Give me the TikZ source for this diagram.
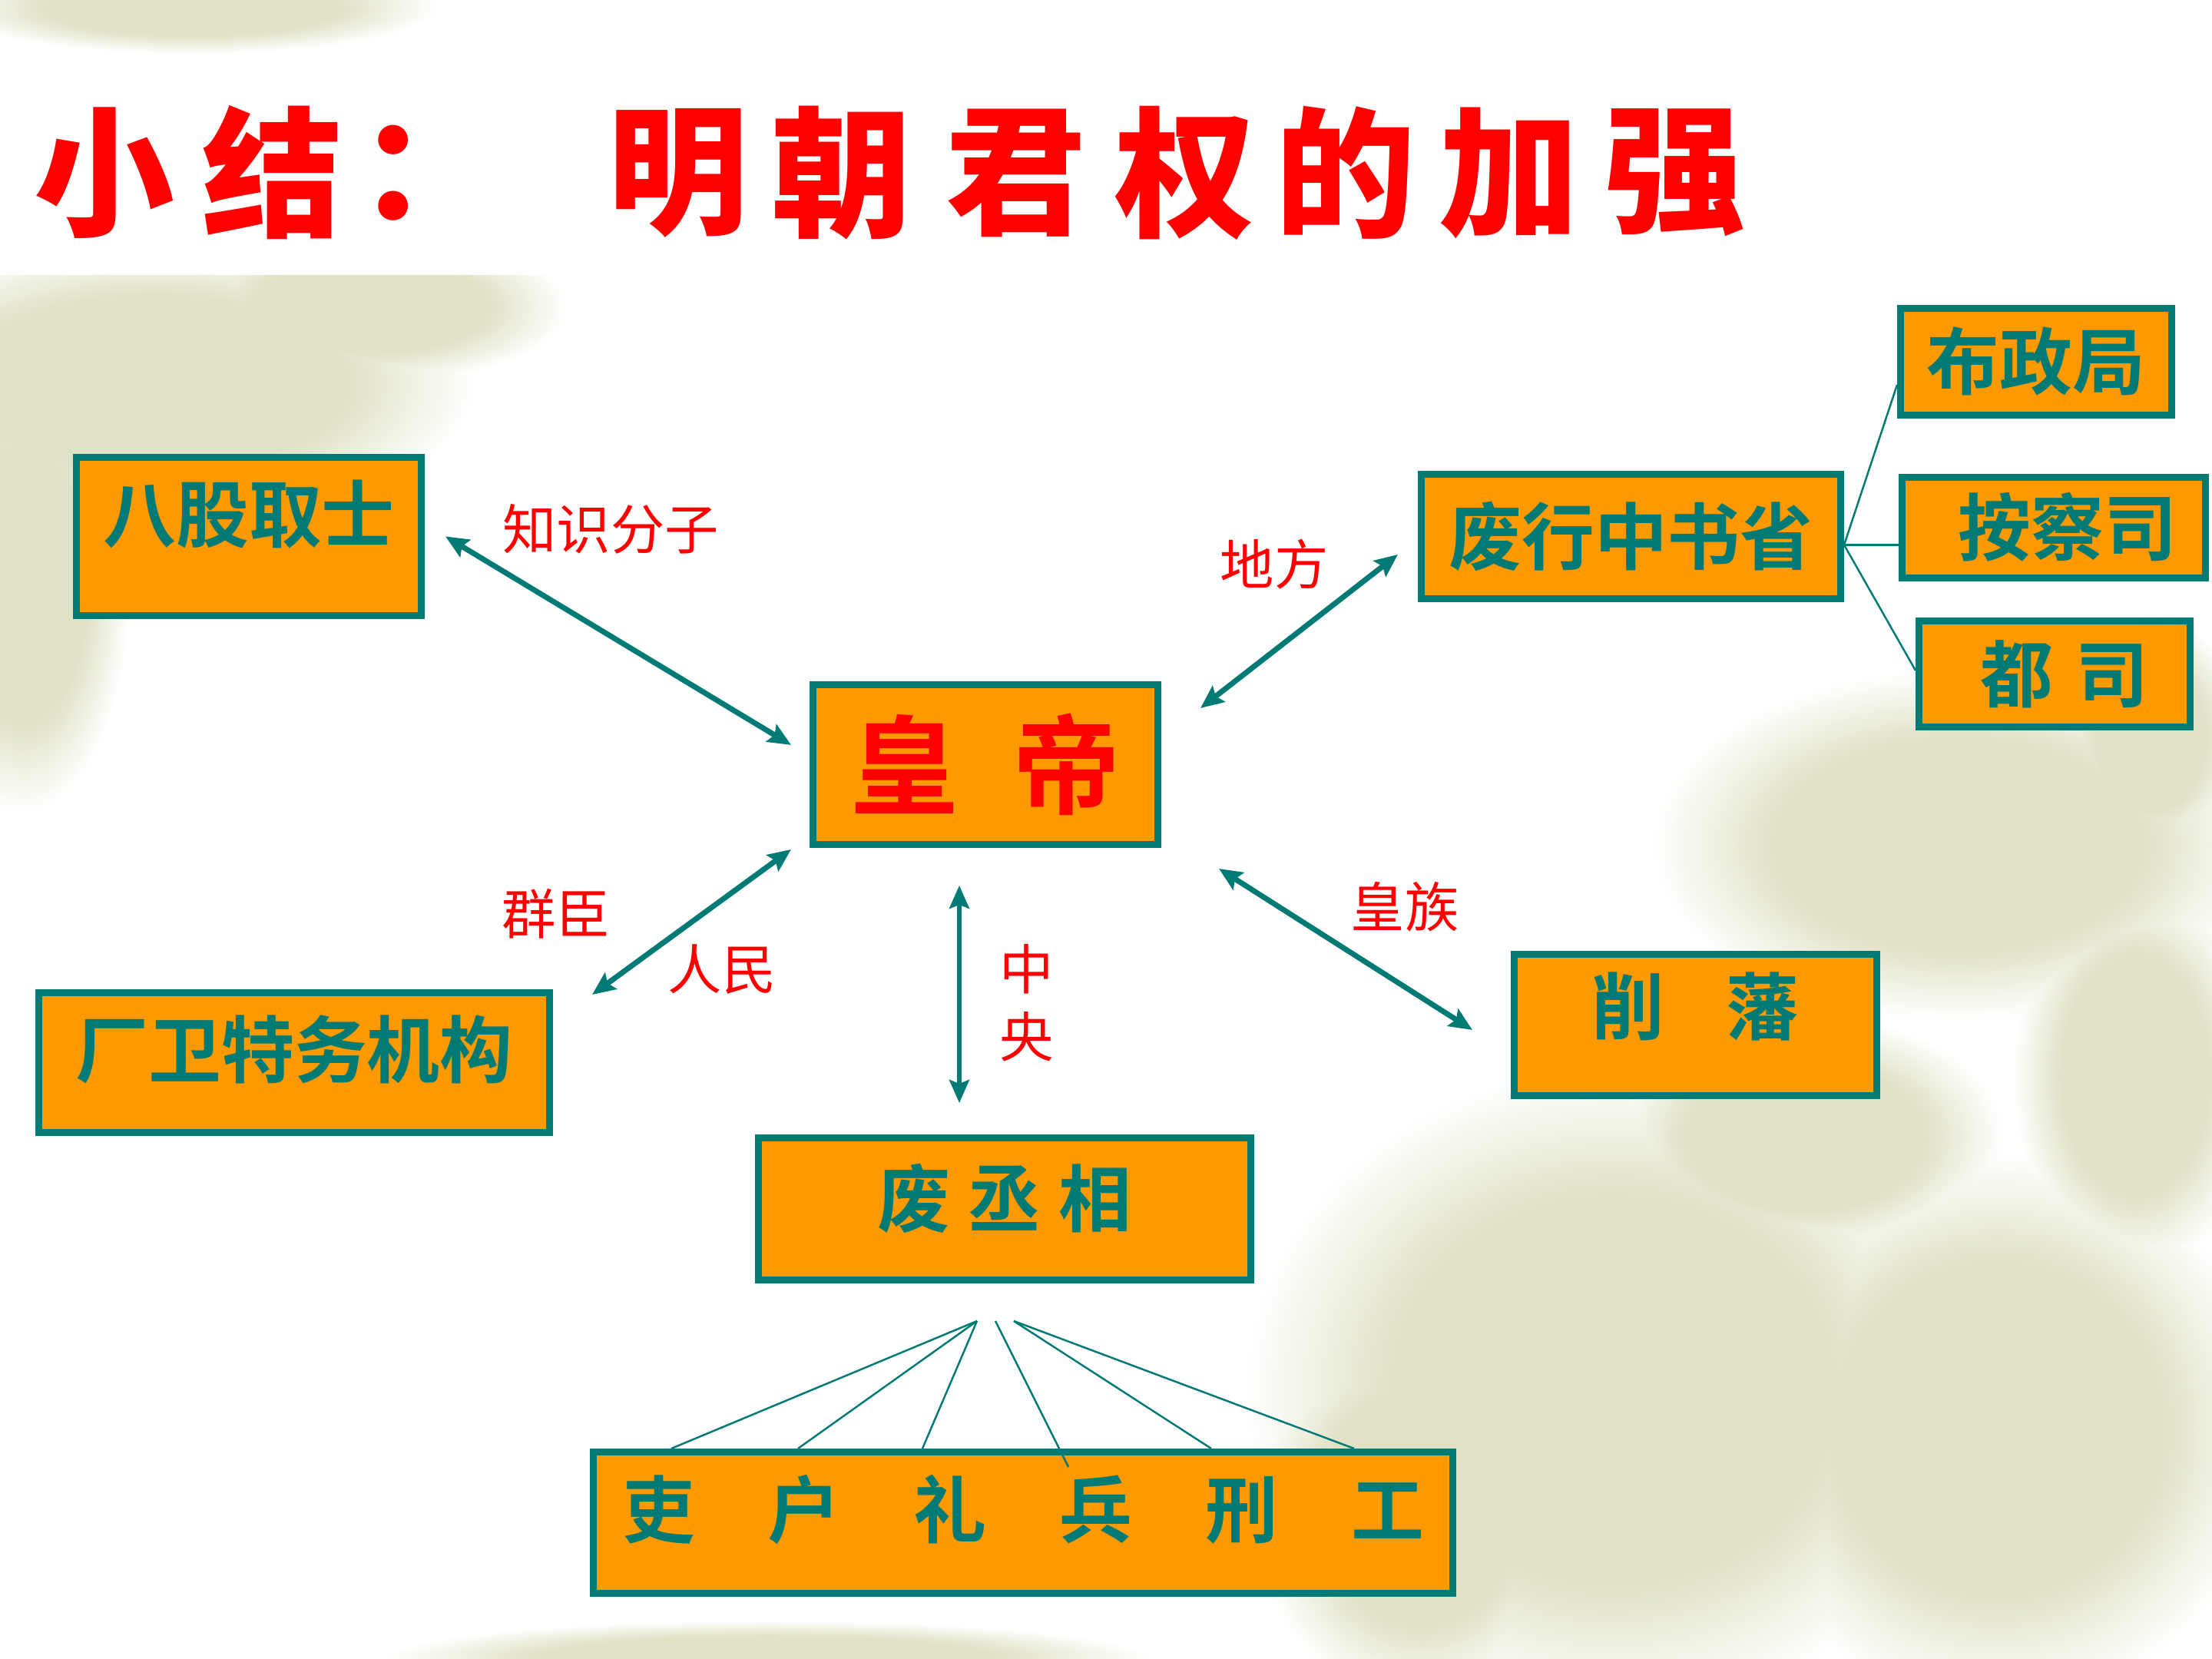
\documentclass[tikz,border=0pt]{standalone}
\usepackage{fontspec}
\newfontfamily\cjk{Noto Sans CJK SC}
\newfontfamily\cjkbf{Noto Sans CJK SC Bold}
\newfontfamily\cjkblk{Noto Sans CJK SC Black}
\usetikzlibrary{arrows.meta,calc,positioning}
\definecolor{boxfill}{RGB}{255,153,0}
\definecolor{boxline}{RGB}{0,122,116}
\definecolor{hired}{RGB}{255,0,0}
\definecolor{leaf}{RGB}{224,225,197}
\pgfdeclareradialshading{leafblob}{\pgfpoint{0bp}{0bp}}{color(0bp)=(leaf); color(15bp)=(leaf); color(25bp)=(white); color(50bp)=(white)}

\begin{document}
\begin{tikzpicture}[>=Stealth,
  box/.style={draw=boxline,fill=boxfill,line width=0.09cm,inner sep=0pt,text=boxline,
    font=\cjkbf\fontsize{27}{32}\selectfont,text height=0.8cm,text depth=0.08cm},
  titlechar/.style={text=hired,inner sep=0pt,font=\cjkblk\fontsize{52}{60}\selectfont},
  redlab/.style={text=hired,inner sep=0pt,font=\cjk\fontsize{20}{25}\selectfont},
  biarrow/.style={draw=boxline,line width=2pt,
    {Stealth[length=0.3cm,width=0.26cm,inset=0.05cm]}-{Stealth[length=0.3cm,width=0.26cm,inset=0.05cm]}},
  thinline/.style={draw=boxline,line width=0.7pt}]
\useasboundingbox (0,0) rectangle (28.8,21.6);
\fill[white] (0,0) rectangle (28.8,21.6);

% background leaves
\foreach \bx/\by/\rx/\ry in {2.5/21.5/3.2/0.6, 2.0/16.6/4.2/1.9, 0.3/14.0/1.4/3.0, 4.8/17.6/2.6/1.0,
  25.5/10.6/4.0/2.3, 21.0/3.5/4.8/4.2, 26.0/3.0/3.6/3.6, 27.8/7.6/1.6/2.6,
  18.5/2.0/2.2/2.6, 23.5/6.8/2.6/1.6, 28.0/12.0/1.2/1.6, 10.0/0.0/5.0/0.5}
  \shade[shading=leafblob,blend mode=darken] (\bx,\by) ellipse (\rx cm and \ry cm);
\fill[white] (0,18.02) rectangle (28.8,20.9);

% title
\foreach \c/\x [count=\i] in {小/1.36,结/3.55,：/5.58,明/8.83,朝/10.96,君/13.23,权/15.43,的/17.52,加/19.65,强/21.81}
  \node[titlechar] (t\i) at (\x,19.35) {\c};

% boxes
\node[box,minimum width=4.49cm,minimum height=2.06cm,text depth=0.66cm] (bagu) at (3.24,14.615) {八股取士};
\node[box,minimum width=4.49cm,minimum height=2.08cm,text=hired,text height=,text depth=,
  font=\cjkbf\fontsize{40}{48}\selectfont] (huangdi) at (12.83,11.645) {皇\hspace{0.5em}帝};
\node[box,minimum width=5.46cm,minimum height=1.62cm] (feixing) at (21.235,14.615) {废行中书省};
\node[box,minimum width=3.53cm,minimum height=1.39cm] (buzheng) at (26.51,16.89) {布政局};
\node[box,minimum width=3.95cm,minimum height=1.31cm] (ancha) at (26.74,14.73) {\hspace{0.36cm}按察司};
\node[box,minimum width=3.53cm,minimum height=1.38cm] (dusi) at (26.75,12.825) {\hspace{0.26cm}都\hspace{0.3em}司};
\node[box,minimum width=6.65cm,minimum height=1.82cm,text depth=0.41cm] (changwei) at (3.83,7.765) {厂卫特务机构\hspace{0.69cm}};
\node[box,minimum width=4.72cm,minimum height=1.84cm,text depth=0.56cm] (xiaofan) at (22.075,8.255) {削\hspace{0.85em}藩};
\node[box,minimum width=6.41cm,minimum height=1.85cm,text depth=0.34cm] (feicx) at (13.08,5.86) {废\hspace{0.24em}丞\hspace{0.24em}相};
\node[box,minimum width=11.19cm,minimum height=1.84cm,text depth=0.42cm] (liubu) at (13.32,1.775)
  {吏\hspace{1em}户\hspace{1em}礼\hspace{1em}兵\hspace{1em}刑\hspace{1em}工\hspace{0.22cm}};

% labels
\node[redlab] (lzhishi) at (7.95,14.71) {知识分子};
\node[redlab] (ldifang) at (16.59,14.25) {地方};
\node[redlab] (lqunchen) at (7.24,9.70) {群臣};
\node[redlab] (lrenmin) at (9.40,8.98) {人民};
\node[redlab,align=center] (lzhongyang) at (13.37,8.54) {中\\央};
\node[redlab] (lhuangzu) at (18.29,9.79) {皇族};

% double arrows round the emperor
\draw[biarrow] ([xshift=0.27cm]bagu.east) -- ([xshift=-0.24cm,yshift=0.255cm]huangdi.west);
\draw[biarrow] ([xshift=0.51cm,yshift=-0.35cm]huangdi.north east) -- ([xshift=-0.26cm,yshift=-0.235cm]feixing.west);
\draw[biarrow] ([xshift=0.51cm,yshift=-0.07cm]changwei.north east) -- ([xshift=-0.24cm,yshift=-0.02cm]huangdi.south west);
\draw[biarrow,line width=1.5pt] ([xshift=-0.34cm,yshift=-0.49cm]huangdi.south) -- ([xshift=-0.59cm,yshift=0.41cm]feicx.north);
\draw[biarrow] ([xshift=0.75cm,yshift=-0.27cm]huangdi.south east) -- ([xshift=-0.50cm,yshift=-0.065cm]xiaofan.west);

% provinces
\coordinate (pv) at ([yshift=-0.11cm]feixing.east);
\draw[thinline] (pv) -- ([yshift=-0.30cm]buzheng.west);
\draw[thinline] (pv) -- (pv -| ancha.west);
\draw[thinline] (pv) -- ([yshift=0.045cm]dusi.west);

% six ministries
\coordinate (hubA) at ([xshift=-0.36cm,yshift=-0.49cm]feicx.south);
\coordinate (hubB) at ([xshift=-0.12cm,yshift=-0.49cm]feicx.south);
\coordinate (hubC) at ([xshift=0.12cm,yshift=-0.49cm]feicx.south);
\foreach \dx in {1.06,2.71,4.33}
  \draw[thinline] (hubA) -- ([xshift=\dx cm]liubu.north west);
\draw[thinline] (hubB) -- ([xshift=6.23cm,yshift=-0.24cm]liubu.north west);
\foreach \dx in {8.09,9.95}
  \draw[thinline] (hubC) -- ([xshift=\dx cm]liubu.north west);
\end{tikzpicture}
\end{document}
